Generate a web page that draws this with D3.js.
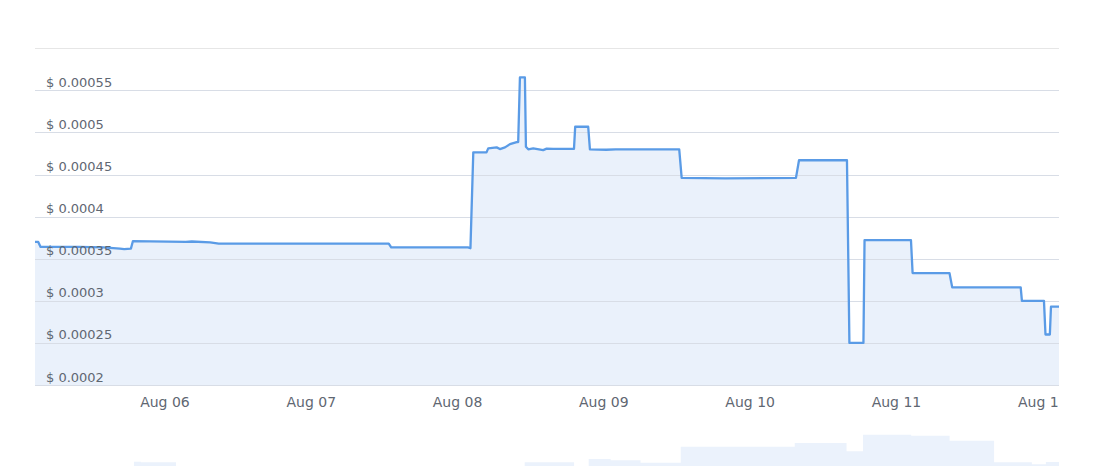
<!DOCTYPE html>
<html>
<head>
<meta charset="utf-8">
<script src="https://cdn.jsdelivr.net/npm/d3@7"></script>
<style>
  html, body { margin: 0; padding: 0; background: #ffffff; }
  svg { display: block; }
  text { font-family: "DejaVu Sans", Verdana, sans-serif; }
</style>
</head>
<body>
<svg id="chart" width="1096" height="466"></svg>
<script>
// ---- data (times in UTC) ----
const priceTimes = [
  "2024-08-05T02:46", "2024-08-05T03:18", "2024-08-05T03:41", "2024-08-05T10:00",
  "2024-08-05T14:00", "2024-08-05T16:42", "2024-08-05T17:24", "2024-08-05T18:30",
  "2024-08-05T18:50", "2024-08-06T03:30", "2024-08-06T04:30", "2024-08-06T07:30",
  "2024-08-06T08:54", "2024-08-07T12:48", "2024-08-07T13:12", "2024-08-08T01:48",
  "2024-08-08T02:12", "2024-08-08T02:40", "2024-08-08T04:50", "2024-08-08T05:07",
  "2024-08-08T06:30", "2024-08-08T07:02", "2024-08-08T07:52", "2024-08-08T08:41",
  "2024-08-08T09:47", "2024-08-08T10:02", "2024-08-08T10:19", "2024-08-08T11:08",
  "2024-08-08T11:18", "2024-08-08T11:41", "2024-08-08T12:30", "2024-08-08T14:08",
  "2024-08-08T14:42", "2024-08-08T15:47", "2024-08-08T19:11", "2024-08-08T19:23",
  "2024-08-08T21:31", "2024-08-08T21:48", "2024-08-09T00:30", "2024-08-09T02:00",
  "2024-08-09T12:27", "2024-08-09T12:51", "2024-08-09T20:00", "2024-08-10T07:36",
  "2024-08-10T08:06", "2024-08-10T15:58", "2024-08-10T16:22", "2024-08-10T18:40",
  "2024-08-10T18:51", "2024-08-11T02:28", "2024-08-11T02:44", "2024-08-11T08:47",
  "2024-08-11T09:14", "2024-08-11T20:28", "2024-08-11T20:40", "2024-08-12T00:17",
  "2024-08-12T00:32", "2024-08-12T01:15", "2024-08-12T01:26", "2024-08-12T02:45"
];
const priceValues = [
  0.000370, 0.000370, 0.000364, 0.000364,
  0.0003635, 0.000362, 0.0003615, 0.000362,
  0.000371, 0.000370, 0.0003705, 0.0003695,
  0.000368, 0.000368, 0.0003635, 0.0003635,
  0.0003625, 0.0004764, 0.0004764, 0.0004811,
  0.0004823, 0.0004803, 0.0004823, 0.0004862,
  0.0004886, 0.0004886, 0.0005654, 0.0005654,
  0.000483, 0.0004800, 0.0004811, 0.000479,
  0.0004808, 0.0004805, 0.0004805, 0.0005068,
  0.0005068, 0.00048, 0.0004795, 0.00048,
  0.00048, 0.000446, 0.0004455, 0.000446,
  0.000467, 0.000467, 0.00025, 0.00025,
  0.000372, 0.000372, 0.000333, 0.000333,
  0.000316, 0.000316, 0.0003, 0.0003,
  0.00026, 0.00026, 0.000293, 0.000293
];

// navigator series (relative units)
const navTimes = [
  "2024-08-05T02:46", "2024-08-05T19:00", "2024-08-05T20:09", "2024-08-06T01:54",
  "2024-08-08T11:06", "2024-08-08T19:12", "2024-08-08T21:36", "2024-08-09T01:12",
  "2024-08-09T06:06", "2024-08-09T12:42", "2024-08-10T07:24", "2024-08-10T15:54",
  "2024-08-10T18:36", "2024-08-11T02:30", "2024-08-11T08:48", "2024-08-11T16:06",
  "2024-08-11T22:18", "2024-08-12T00:36", "2024-08-12T02:45"
];
const navValues = [
  15, 31, 29.8, 15,
  30, 15, 37, 34.1,
  29, 63.7, 71.7, 53.7,
  89.8, 87.6, 76.7, 29.8,
  25.4, 30.4, 30.4
];

const yTickValues = [0.0002, 0.00025, 0.0003, 0.00035, 0.0004, 0.00045, 0.0005, 0.00055, 0.0006];
const yTickLabels = ["$ 0.0002", "$ 0.00025", "$ 0.0003", "$ 0.00035", "$ 0.0004", "$ 0.00045", "$ 0.0005", "$ 0.00055", ""];
const xTickDates = ["2024-08-06", "2024-08-07", "2024-08-08", "2024-08-09", "2024-08-10", "2024-08-11", "2024-08-12"];
const xStart = "2024-08-05T02:46";
const xEnd = "2024-08-12T02:45";

// ---- layout ----
const W = 1096, H = 466;
const plot = { left: 35, right: 1059, top: 48.3, bottom: 385 };
const parse = s => new Date(s + (s.length > 10 ? ":00Z" : "T00:00:00Z"));

const svg = d3.select("#chart");

const x = d3.scaleUtc()
  .domain([parse(xStart), parse(xEnd)])
  .range([plot.left, plot.right]);
const y = d3.scaleLinear()
  .domain([yTickValues[0], yTickValues[yTickValues.length - 1]])
  .range([plot.bottom, plot.top]);

const defs = svg.append("defs");
defs.append("clipPath").attr("id", "plotClip")
  .append("rect").attr("x", plot.left).attr("y", 0)
  .attr("width", plot.right - plot.left).attr("height", H);

// gridlines
svg.append("g").selectAll("line").data(yTickValues).join("line")
  .attr("x1", plot.left).attr("x2", plot.right)
  .attr("y1", d => Math.round(y(d)) + 0.5).attr("y2", d => Math.round(y(d)) + 0.5)
  .attr("stroke", "#e6e6e6").attr("stroke-width", 1);

// main data
const pts = priceTimes.map((t, i) => ({ t: parse(t), v: priceValues[i] }));
const g = svg.append("g").attr("clip-path", "url(#plotClip)");
g.append("path").datum(pts)
  .attr("fill", "#eaf1fb")
  .attr("d", d3.area().x(d => x(d.t)).y0(plot.bottom).y1(d => y(d.v)));
// gridlines over the area
g.append("g").selectAll("line").data(yTickValues.slice(0, -1)).join("line")
  .attr("x1", plot.left).attr("x2", plot.right)
  .attr("y1", d => Math.round(y(d)) + 0.5).attr("y2", d => Math.round(y(d)) + 0.5)
  .attr("stroke", "#d8dde6").attr("stroke-width", 1);
g.append("path").datum(pts)
  .attr("fill", "none")
  .attr("stroke", "#5a9be6")
  .attr("stroke-width", 2.3)
  .attr("stroke-linejoin", "round")
  .attr("d", d3.line().x(d => x(d.t)).y(d => y(d.v)));

// y labels
svg.append("g").selectAll("text").data(yTickValues).join("text")
  .attr("x", 46)
  .attr("y", d => y(d) - 3.5)
  .attr("font-size", 13)
  .attr("fill", "#5f6772")
  .text((d, i) => yTickLabels[i]);

// x axis
const xAxis = d3.axisBottom(x)
  .tickValues(xTickDates.map(parse))
  .tickFormat(d3.utcFormat("%b %d"))
  .tickSize(0)
  .tickPadding(0);
const xg = svg.append("g")
  .attr("transform", `translate(0,${plot.bottom})`)
  .attr("clip-path", "url(#plotClip)")
  .call(xAxis);
xg.select(".domain").remove();
xg.selectAll("text")
  .attr("font-family", "DejaVu Sans, Verdana, sans-serif")
  .attr("font-size", 14)
  .attr("fill", "#5f6772")
  .attr("dy", null)
  .attr("y", 22);

// navigator
const navY = d3.scaleLinear().domain([0, 100]).range([476, 430]);
const navPts = navTimes.map((t, i) => ({ t: parse(t), v: navValues[i] }));
svg.append("path").datum(navPts)
  .attr("clip-path", "url(#plotClip)")
  .attr("fill", "#ebf2fc")
  .attr("d", d3.area().curve(d3.curveStepAfter).x(d => x(d.t)).y0(480).y1(d => navY(d.v)));
</script>
</body>
</html>
